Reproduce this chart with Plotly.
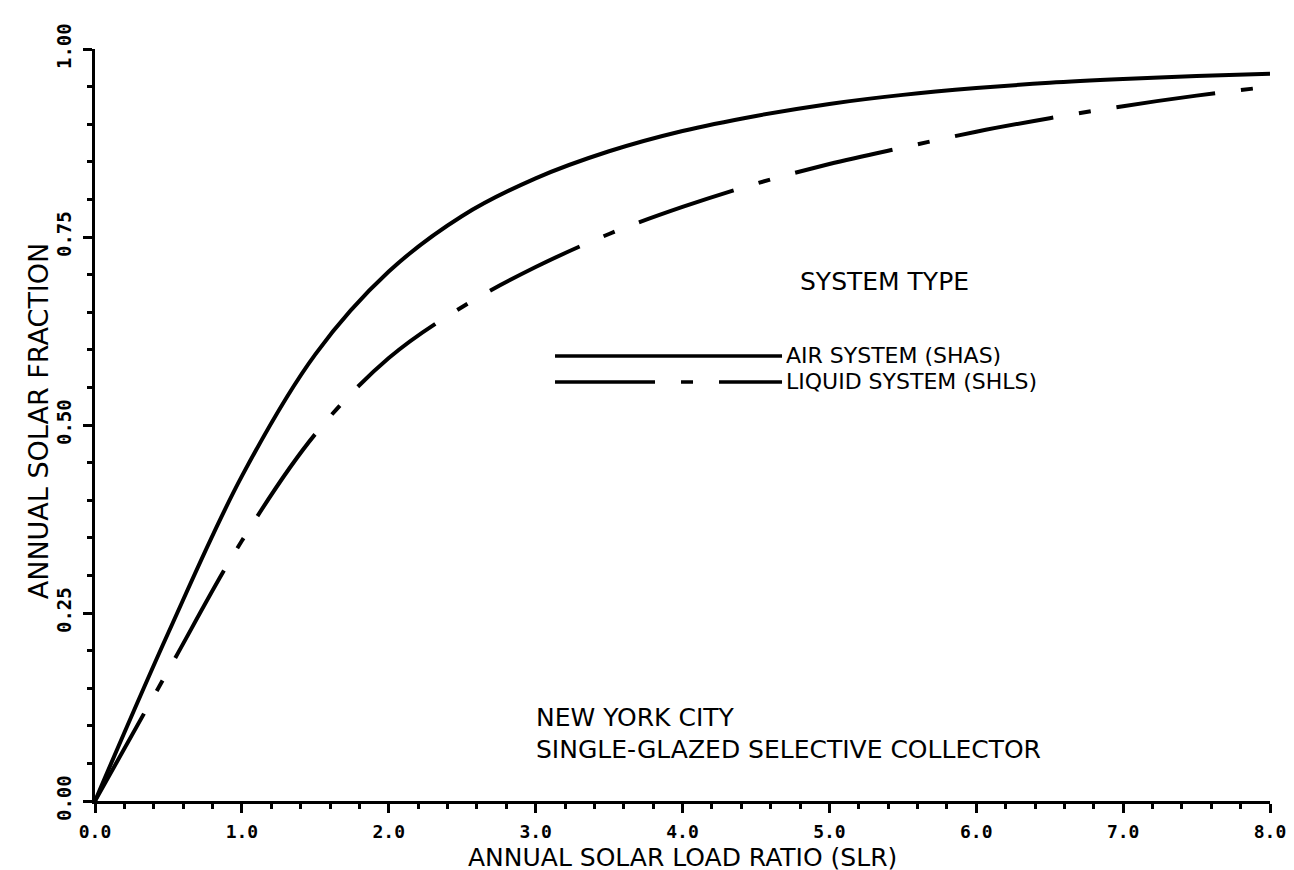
import plotly.graph_objects as go

# Data
slr = [0, 0.5, 1.0, 1.5, 2.0, 2.5, 3.0, 3.5, 4.0,
       4.5, 5.0, 5.5, 6.0, 6.5, 7.0, 7.5, 8.0]
air_system = [0, 0.224, 0.432, 0.594, 0.704, 0.778, 0.828,
              0.864, 0.891, 0.911, 0.927, 0.939, 0.948, 0.955, 0.96, 0.964, 0.967]
liquid_system = [0, 0.174, 0.346, 0.488, 0.589, 0.657,
                 0.71, 0.754, 0.79, 0.821, 0.847, 0.869, 0.89, 0.908, 0.924,
                 0.938, 0.95]

x_ticks = [0, 1, 2, 3, 4, 5, 6, 7, 8]
x_ticklabels = ["0.0", "1.0", "2.0", "3.0", "4.0", "5.0", "6.0", "7.0", "8.0"]
y_ticks = [0, 0.25, 0.5, 0.75, 1.0]
y_ticklabels = ["0.00", "0.25", "0.50", "0.75", "1.00"]

TXT = "DejaVu Sans"
NUM = "DejaVu Sans Mono"
INK = "#000000"
DASH = "100px,26px,12px,26px"

fig = go.Figure()
fig.add_trace(go.Scatter(x=slr, y=air_system, mode="lines", name="AIR SYSTEM (SHAS)",
                         line=dict(color=INK, width=4, shape="spline", smoothing=1.0)))
fig.add_trace(go.Scatter(x=slr, y=liquid_system, mode="lines", name="LIQUID SYSTEM (SHLS)",
                         line=dict(color=INK, width=4, shape="spline", smoothing=1.0,
                                   dash=DASH)))

# legend sample lines
fig.add_shape(type="line", xref="paper", yref="paper", x0=0.3915, x1=0.5847,
              y0=0.5918, y1=0.5918, line=dict(color=INK, width=3.5))
fig.add_shape(type="line", xref="paper", yref="paper", x0=0.3915, x1=0.5847,
              y0=0.5572, y1=0.5572, line=dict(color=INK, width=3.5, dash=DASH))

anns = [
    dict(text="SYSTEM TYPE", x=0.598, y=0.691, size=25),
    dict(text="AIR SYSTEM (SHAS)", x=0.586, y=0.5918, size=22),
    dict(text="LIQUID SYSTEM (SHLS)", x=0.586, y=0.5572, size=22),
    dict(text="NEW YORK CITY", x=0.374, y=0.111, size=25),
    dict(text="SINGLE-GLAZED SELECTIVE COLLECTOR", x=0.374, y=0.069, size=25),
]
for a in anns:
    fig.add_annotation(text=a["text"], x=a["x"], y=a["y"], xref="paper", yref="paper",
                       xanchor="left", yanchor="middle", showarrow=False,
                       font=dict(family=TXT, size=a["size"], color=INK))

# axis titles
fig.add_annotation(text="ANNUAL SOLAR LOAD RATIO (SLR)", x=0.5, y=-0.0745,
                   xref="paper", yref="paper", xanchor="center", yanchor="middle",
                   showarrow=False, font=dict(family=TXT, size=25, color=INK))
fig.add_annotation(text="ANNUAL SOLAR FRACTION", x=-0.0485, y=0.505, textangle=-90,
                   xref="paper", yref="paper", xanchor="center", yanchor="middle",
                   showarrow=False, font=dict(family=TXT, size=27, color=INK))

fig.update_layout(
    width=1294, height=870,
    margin=dict(l=87, r=32, t=41, b=77),
    paper_bgcolor="white", plot_bgcolor="white",
    showlegend=False,
    font=dict(family=TXT, color=INK),
)
fig.update_xaxes(
    range=[0, 8], tickvals=x_ticks, ticktext=x_ticklabels,
    showline=True, linecolor=INK, linewidth=3, mirror=False,
    showgrid=False, zeroline=False,
    ticks="outside", ticklen=9, tickwidth=2.5, tickcolor=INK,
    minor=dict(dtick=0.2, ticks="outside", ticklen=5, tickwidth=2.5, tickcolor=INK),
    tickfont=dict(family=NUM, size=18, color=INK, weight="bold"),
    ticklabelstandoff=3,
)
fig.update_yaxes(
    range=[0, 1.0], tickvals=y_ticks, ticktext=y_ticklabels, tickangle=-90,
    showline=True, linecolor=INK, linewidth=3, mirror=False,
    showgrid=False, zeroline=False,
    ticks="outside", ticklen=9, tickwidth=2.5, tickcolor=INK,
    minor=dict(dtick=0.05, ticks="outside", ticklen=5, tickwidth=2.5, tickcolor=INK),
    tickfont=dict(family=NUM, size=19, color=INK, weight="bold"),
    ticklabelstandoff=4,
)

fig.write_html("out.html")
